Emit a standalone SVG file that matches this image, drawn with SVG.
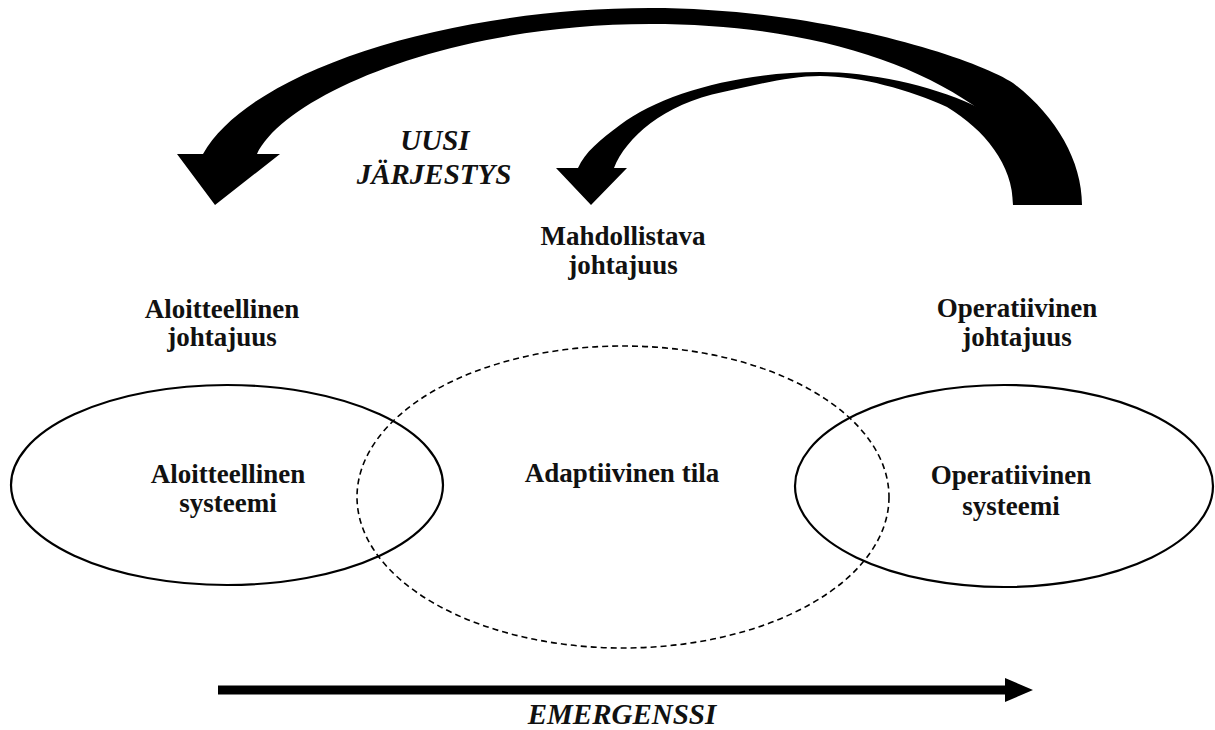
<svg xmlns="http://www.w3.org/2000/svg" width="1215" height="730" viewBox="0 0 1215 730">
<style>
.lbl{font-family:"Liberation Serif","Times New Roman",serif;font-weight:bold;font-size:27px;fill:#111;text-anchor:middle}
.it{font-style:italic;font-size:29px}
.sys{fill:none;stroke:#000;stroke-width:2.2}
.adp{fill:none;stroke:#000;stroke-width:1.6;stroke-dasharray:6 4}
.arr{fill:#000;stroke:none}
</style>
<rect width="1215" height="730" fill="#fff"/>
<g id="connectors">
<path class="arr" d="M1082,205 C1082,160 1055,115 1013,83 C975,58 820,8 650,8 C450,8 250,70 203,154 L177,154 L215,205 L280,154 L257,154 C285,95 450,24 650,24 C790,24 900,55 973,105 C1005,130 1013,165 1013,205 Z"/>
<path class="arr" d="M973,105 C930,85 870,72 820,72 C740,72 662,93 620,125 C600,140 585,152 578,168 L556,168 L591,205 L627,168 L614,168 C626,138 663,104 723,92 C755,85 790,76 820,76 C860,76 910,90 947,107 C985,130 1013,165 1013,205 L1050,205 L1040,140 Z"/>
<path class="arr" d="M218,685.5 L1005,685.5 L1005,678 L1033,690 L1005,702 L1005,694.5 L218,694.5 Z"/>
</g>
<g id="aloitteellinen-systeemi">
<ellipse class="sys" cx="227" cy="485" rx="216" ry="100"/>
<text class="lbl" x="228" y="483">Aloitteellinen</text>
<text class="lbl" x="228" y="512">systeemi</text>
</g>
<g id="adaptiivinen-tila">
<ellipse class="adp" cx="623" cy="497" rx="266" ry="151"/>
<text class="lbl" x="622" y="482">Adaptiivinen tila</text>
</g>
<g id="operatiivinen-systeemi">
<ellipse class="sys" cx="1004" cy="486" rx="209" ry="101"/>
<text class="lbl" x="1011" y="484">Operatiivinen</text>
<text class="lbl" x="1011" y="515">systeemi</text>
</g>
<g id="aloitteellinen-johtajuus">
<text class="lbl" x="222" y="318">Aloitteellinen</text>
<text class="lbl" x="222" y="346">johtajuus</text>
</g>
<g id="mahdollistava-johtajuus">
<text class="lbl" x="623" y="245">Mahdollistava</text>
<text class="lbl" x="623" y="274">johtajuus</text>
</g>
<g id="operatiivinen-johtajuus">
<text class="lbl" x="1017" y="317">Operatiivinen</text>
<text class="lbl" x="1017" y="346">johtajuus</text>
</g>
<g id="uusi-jarjestys">
<text class="lbl it" x="435" y="150">UUSI</text>
<text class="lbl it" x="434" y="184">JÄRJESTYS</text>
</g>
<g id="emergenssi">
<text class="lbl it" x="622" y="724">EMERGENSSI</text>
</g>
</svg>
